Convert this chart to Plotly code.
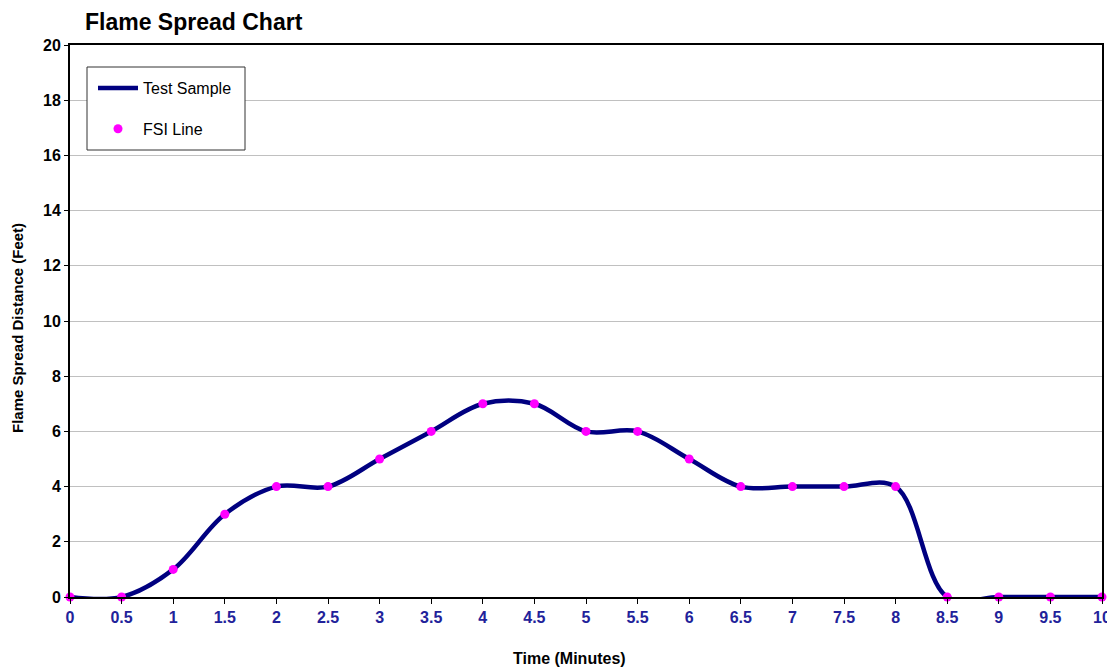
import plotly.graph_objects as go

time_min = [0, 0.5, 1, 1.5, 2, 2.5, 3, 3.5, 4, 4.5, 5, 5.5, 6, 6.5, 7, 7.5, 8, 8.5, 9, 9.5, 10]
distance_ft = [0, 0, 1, 3, 4, 4, 5, 6, 7, 7, 6, 6, 5, 4, 4, 4, 4, 0, 0, 0, 0]
x_ticks = [0, 0.5, 1, 1.5, 2, 2.5, 3, 3.5, 4, 4.5, 5, 5.5, 6, 6.5, 7, 7.5, 8, 8.5, 9, 9.5, 10]
x_labels = ["0", "0.5", "1", "1.5", "2", "2.5", "3", "3.5", "4", "4.5", "5", "5.5", "6", "6.5", "7", "7.5", "8", "8.5", "9", "9.5", "10"]
y_ticks = [0, 2, 4, 6, 8, 10, 12, 14, 16, 18, 20]

FONT = "Liberation Sans, Arial, sans-serif"
W, H = 1107, 660  # page body margin of 8px shifts the figure
PW, PH = 1032, 552  # plot area size in px

fig = go.Figure()
fig.add_trace(go.Scatter(
    x=time_min, y=distance_ft, mode="lines", name="Test Sample", legendgroup="a",
    line=dict(color="#000080", width=4.5, shape="spline", smoothing=1.0),
))
fig.add_trace(go.Scatter(
    x=time_min, y=distance_ft, mode="markers", name="FSI Line", legendgroup="b",
    marker=dict(color="#FF00FF", size=9), cliponaxis=False,
))

fig.update_layout(
    width=W, height=H,
    margin=dict(l=62, r=13, t=37, b=71, autoexpand=False),
    paper_bgcolor="white", plot_bgcolor="white",
    font=dict(family=FONT, color="black"),
    title=dict(text="<b>Flame Spread Chart</b>", x=(85 - 8) / W, xanchor="left",
               y=1 - (22 - 8) / H, yanchor="middle", font=dict(size=23, color="black")),
    showlegend=True,
    legend=dict(x=(93 - 70) / PW, y=1 - (71 - 45) / PH, xanchor="left", yanchor="top",
                bgcolor="rgba(0,0,0,0)", borderwidth=0,
                font=dict(size=16, color="black"), tracegroupgap=17,
                itemwidth=40, traceorder="grouped"),
    shapes=[dict(type="rect", xref="paper", yref="paper", layer="above",
                 x0=(87 - 70) / PW, x1=(245 - 70) / PW,
                 y0=(597 - 150) / PH, y1=(597 - 67) / PH,
                 fillcolor="white", line=dict(color="#333333", width=1))],
    xaxis=dict(
        range=[0, 10], tickmode="array", tickvals=x_ticks, ticktext=x_labels,
        showgrid=False, zeroline=False, showline=True, linecolor="black", linewidth=2,
        mirror=True, ticks="outside", ticklen=5, tickcolor="black", tickwidth=1,
        tickfont=dict(size=16, color="#22229A", family=FONT, weight="bold"),
        automargin=False,
    ),
    yaxis=dict(
        range=[0, 20], tickmode="array", tickvals=y_ticks,
        showgrid=True, gridcolor="#C0C0C0", gridwidth=1, zeroline=False,
        showline=True, linecolor="black", linewidth=2, mirror=True,
        ticks="outside", ticklen=4, tickcolor="black",
        tickfont=dict(size=16, color="black", family=FONT, weight="bold"),
        automargin=False,
    ),
    annotations=[
        dict(text="<b>Time (Minutes)</b>", xref="paper", yref="paper",
             x=(569 - 70) / PW, y=-(658 - 597) / PH, xanchor="center", yanchor="middle",
             showarrow=False, font=dict(size=16, color="black", family=FONT)),
        dict(text="<b>Flame Spread Distance (Feet)</b>", xref="paper", yref="paper",
             x=-(70 - 18) / PW, y=(597 - 328) / PH, xanchor="center", yanchor="middle",
             textangle=-90, showarrow=False, font=dict(size=15, color="black", family=FONT)),
    ],
)

fig.write_html("out.html")
